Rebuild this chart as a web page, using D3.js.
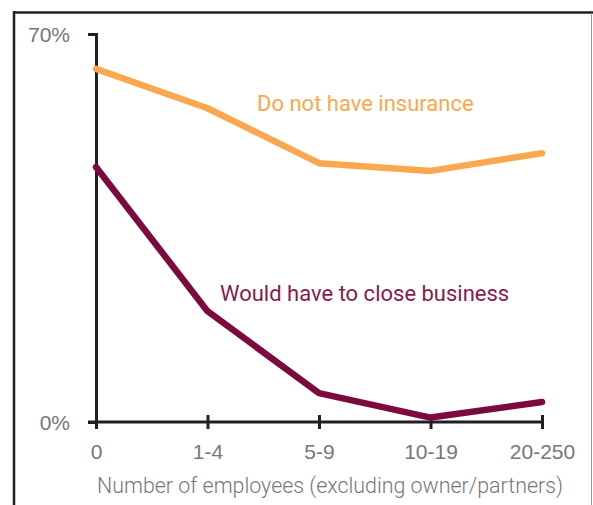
<!DOCTYPE html>
<html>
<head>
<meta charset="utf-8">
<script src="https://cdn.jsdelivr.net/npm/d3@7"></script>
<style>
  body { margin: 0; background: #fff; }
  svg { display: block; font-family: Roboto, "Open Sans", sans-serif; }
</style>
</head>
<body>
<svg id="chart" width="593" height="505"></svg>
<script>
const categories = ["0", "1-4", "5-9", "10-19", "20-250"];
const noInsurance = [63.7, 56.6, 46.7, 45.3, 48.5];
const closeBusiness = [46.0, 20.0, 5.2, 0.8, 3.6];
const yTicks = [0, 70];

const svg = d3.select("#chart");

// frame
svg.append("line").attr("x1", 14).attr("x2", 14).attr("y1", 11).attr("y2", 505)
  .attr("stroke", "#231f20").attr("stroke-width", 2.5);
svg.append("line").attr("x1", 13).attr("x2", 593).attr("y1", 12.5).attr("y2", 12.5)
  .attr("stroke", "#231f20").attr("stroke-width", 2.5);
svg.append("line").attr("x1", 591.5).attr("x2", 591.5).attr("y1", 13).attr("y2", 505)
  .attr("stroke", "#999").attr("stroke-width", 1);

const x = d3.scalePoint().domain(categories).range([96, 542]);
const y = d3.scaleLinear().domain([0, 70]).range([422, 34]);

const axisColor = "#231f20";
const textColor = "#777";

// y axis
const yAxis = svg.append("g")
  .attr("transform", "translate(96,0)")
  .call(d3.axisLeft(y).tickValues(yTicks).tickSize(8).tickFormat(d => d + "%"));
yAxis.select(".domain").attr("stroke", axisColor).attr("stroke-width", 3);
yAxis.selectAll(".tick line").attr("stroke", axisColor).attr("stroke-width", 3);
yAxis.selectAll(".tick text")
  .attr("x", -26).attr("dy", "0.35em")
  .attr("fill", textColor).style("font-size", "21px").style("font-weight", 300);

// x axis
const xAxis = svg.append("g")
  .attr("transform", "translate(0,422)")
  .call(d3.axisBottom(x).tickSize(7).tickSizeOuter(0));
xAxis.select(".domain").remove();
xAxis.insert("line", ":first-child")
  .attr("x1", 88).attr("x2", 542).attr("y1", 0).attr("y2", 0)
  .attr("stroke", axisColor).attr("stroke-width", 3);
xAxis.selectAll(".tick line")
  .attr("y1", -7).attr("y2", 7)
  .attr("stroke", axisColor).attr("stroke-width", 3);
xAxis.selectAll(".tick text")
  .attr("y", 37).attr("dy", 0)
  .attr("fill", textColor).style("font-size", "21px").style("font-weight", 300);

svg.append("text")
  .attr("x", 330).attr("y", 493)
  .attr("text-anchor", "middle")
  .attr("fill", textColor)
  .style("font-size", "21.4px").style("font-weight", 300)
  .text("Number of employees (excluding owner/partners)");

// lines
const line = d3.line()
  .x((d, i) => x(categories[i]))
  .y(d => y(d));

svg.append("path").datum(noInsurance)
  .attr("d", line).attr("fill", "none")
  .attr("stroke", "#f9a84f").attr("stroke-width", 6.5)
  .attr("stroke-linecap", "round").attr("stroke-linejoin", "round");

svg.append("path").datum(closeBusiness)
  .attr("d", line).attr("fill", "none")
  .attr("stroke", "#7b0a3e").attr("stroke-width", 6.5)
  .attr("stroke-linecap", "round").attr("stroke-linejoin", "round");

// series labels
svg.append("text")
  .attr("x", 257).attr("y", 111)
  .attr("fill", "#f9a84f")
  .style("font-size", "22px")
  .text("Do not have insurance");

svg.append("text")
  .attr("x", 220).attr("y", 301)
  .attr("fill", "#8a1a4e")
  .style("font-size", "22px")
  .text("Would have to close business");
</script>
</body>
</html>
